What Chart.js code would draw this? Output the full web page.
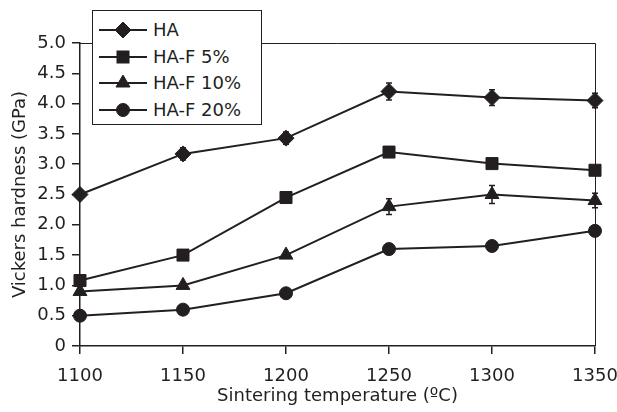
<!DOCTYPE html>
<html>
<head>
<meta charset="utf-8">
<script src="https://cdn.jsdelivr.net/npm/chart.js@4"></script>
<style>
  html, body { margin: 0; padding: 0; background: #fff; }
  #wrap { position: relative; width: 617px; height: 412px; }
  #legend {
    position: absolute; left: 92px; top: 10px; width: 168px; height: 113px;
    border: 1px solid #231f20; background: #fff; box-sizing: content-box;
    font-family: "DejaVu Sans", sans-serif; font-size: 18px; color: #231f20;
  }
  #legend .row { position: absolute; left: 0; height: 26px; line-height: 26px; }
  #legend svg { position: absolute; left: 5px; top: 0; }
  #legend span { position: absolute; left: 60px; top: 0; white-space: nowrap; }
</style>
</head>
<body>
<div id="wrap">
  <canvas id="chart" width="617" height="412"></canvas>
  <div id="legend"></div>
</div>
<script>
const temperatures = ["1100", "1150", "1200", "1250", "1300", "1350"];
const seriesNames = ["HA", "HA-F 5%", "HA-F 10%", "HA-F 20%"];
const haValues = [2.5, 3.17, 3.43, 4.2, 4.1, 4.05];
const haErrors = [0, 0.1, 0.1, 0.14, 0.13, 0.12];
const haF5Values = [1.08, 1.5, 2.45, 3.2, 3.01, 2.9];
const haF5Errors = [0, 0, 0, 0, 0, 0];
const haF10Values = [0.9, 1.0, 1.5, 2.3, 2.5, 2.4];
const haF10Errors = [0, 0, 0, 0.13, 0.15, 0.12];
const haF20Values = [0.5, 0.6, 0.87, 1.6, 1.65, 1.9];
const haF20Errors = [0, 0, 0, 0, 0, 0];
const yTicks = [0, 0.5, 1.0, 1.5, 2.0, 2.5, 3.0, 3.5, 4.0, 4.5, 5.0];

const ink = "#231f20";
const markers = ["rectRot", "rect", "triangle", "circle"];
const markerRadius = [8, 8.5, 8, 6.5];

Chart.defaults.font.family = "'DejaVu Sans', sans-serif";
Chart.defaults.font.size = 18;
Chart.defaults.color = ink;

const makeDataset = (i, values, errors) => ({
  label: seriesNames[i],
  data: values,
  errors: errors,
  borderColor: ink,
  backgroundColor: ink,
  borderWidth: 2,
  pointStyle: markers[i],
  pointRadius: markerRadius[i],
  pointBackgroundColor: ink,
  pointBorderColor: ink,
  pointBorderWidth: 1,
  tension: 0,
});

// vertical error bars with small caps
const errorBars = {
  id: "errorBars",
  afterDatasetsDraw(chart) {
    const ctx = chart.ctx;
    const y = chart.scales.y;
    ctx.save();
    ctx.strokeStyle = ink;
    ctx.lineWidth = 1.5;
    chart.data.datasets.forEach((ds, di) => {
      const meta = chart.getDatasetMeta(di);
      ds.errors.forEach((e, i) => {
        if (!e) return;
        const px = meta.data[i].x;
        const top = y.getPixelForValue(ds.data[i] + e);
        const bot = y.getPixelForValue(ds.data[i] - e);
        ctx.beginPath();
        ctx.moveTo(px, top); ctx.lineTo(px, bot);
        ctx.moveTo(px - 3, top); ctx.lineTo(px + 3, top);
        ctx.moveTo(px - 3, bot); ctx.lineTo(px + 3, bot);
        ctx.stroke();
      });
    });
    ctx.restore();
  },
};

// top and right edges of the plot frame
const frame = {
  id: "frame",
  beforeDatasetsDraw(chart) {
    const a = chart.chartArea;
    const ctx = chart.ctx;
    ctx.save();
    ctx.strokeStyle = ink;
    ctx.lineWidth = 1;
    ctx.beginPath();
    ctx.moveTo(a.left, a.top + 0.5);
    ctx.lineTo(a.right + 0.5, a.top + 0.5);
    ctx.lineTo(a.right + 0.5, a.bottom);
    ctx.stroke();
    ctx.restore();
  },
};

new Chart(document.getElementById("chart"), {
  type: "line",
  data: {
    labels: temperatures,
    datasets: [
      makeDataset(0, haValues, haErrors),
      makeDataset(1, haF5Values, haF5Errors),
      makeDataset(2, haF10Values, haF10Errors),
      makeDataset(3, haF20Values, haF20Errors),
    ],
  },
  options: {
    responsive: false,
    animation: false,
    layout: { padding: { top: 43, right: 22, bottom: 0, left: 0 } },
    plugins: { legend: { display: false }, tooltip: { enabled: false } },
    scales: {
      x: {
        offset: false,
        afterFit: (s) => {
          s.height = 66;
          s.paddingLeft = 0;
          s.paddingRight = 0;
        },
        grid: { display: true, drawOnChartArea: false, tickLength: 8, color: ink, lineWidth: 1.5 },
        border: { display: true, color: ink, width: 1.5 },
        ticks: { padding: 12, maxRotation: 0 },
        title: { display: true, text: "Sintering temperature (ºC)", padding: { top: 0, bottom: 5 } },
      },
      y: {
        min: 0,
        max: 5,
        afterFit: (s) => {
          s.width = 80;
          s.paddingTop = 0;
          s.paddingBottom = 0;
        },
        afterBuildTicks: (s) => { s.ticks = yTicks.map((v) => ({ value: v })); },
        grid: { display: true, drawOnChartArea: false, tickLength: 8, color: ink, lineWidth: 1.5 },
        border: { display: true, color: ink, width: 1.5 },
        ticks: {
          padding: 6,
          callback: (v) => (v === 0 ? "0" : Number(v).toFixed(1)),
        },
        title: { display: true, text: "Vickers hardness (GPa)", padding: { top: 10, bottom: 0 } },
      },
    },
  },
  plugins: [frame, errorBars],
});

// legend: line sample with marker, then the series name
const markerSvg = (style) => {
  const c = 25, m = 13;
  let shape = "";
  if (style === "rectRot") shape = `<polygon points="${c},${m - 8} ${c + 8},${m} ${c},${m + 8} ${c - 8},${m}"/>`;
  if (style === "rect") shape = `<rect x="${c - 6}" y="${m - 6}" width="12" height="12"/>`;
  if (style === "triangle") shape = `<polygon points="${c},${m - 8} ${c + 7},${m + 4} ${c - 7},${m + 4}"/>`;
  if (style === "circle") shape = `<circle cx="${c}" cy="${m}" r="6.5"/>`;
  return `<svg width="50" height="26" fill="${ink}" stroke="${ink}">` +
    `<line x1="1" y1="${m}" x2="49" y2="${m}" stroke-width="2"/>${shape}</svg>`;
};

const legend = document.getElementById("legend");
seriesNames.forEach((name, i) => {
  const row = document.createElement("div");
  row.className = "row";
  row.style.top = (6 + i * 26.6) + "px";
  row.innerHTML = markerSvg(markers[i]) + "<span>" + name + "</span>";
  legend.appendChild(row);
});
</script>
</body>
</html>
